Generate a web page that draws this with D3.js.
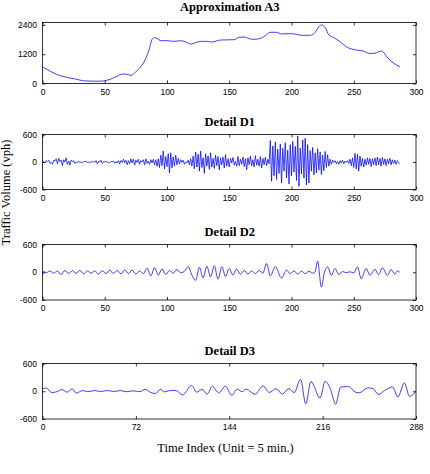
<!DOCTYPE html>
<html><head><meta charset="utf-8">
<script src="https://cdn.jsdelivr.net/npm/d3@7"></script>
<style>body{margin:0;background:#fff}</style></head>
<body><svg id="c" width="430" height="474"></svg>
<script>
// ---- data ----
const titles = ["Approximation A3", "Detail D1", "Detail D2", "Detail D3"];
const yAxisLabel = "Traffic Volume (vph)";
const xAxisLabel = "Time Index (Unit = 5 min.)";
const xTicks300 = [0, 50, 100, 150, 200, 250, 300];
const xTicks288 = [0, 72, 144, 216, 288];
const a3YTicks = [0, 1200, 2400];
const detailYTicks = [-600, 0, 600];

const a3Index = [0,7,13,20,27,33,40,47,51,56,60,64,67,71,75,79,83,85.5,88,90,92,95,100,105.5,111,115,119,123,127,132,136,143,154,158,162,166,170,175,179,183,188,192,199,204,208,215,219,222,224,227,230,234,239,244,252,258,262,266,270,272.5,276.5,280.5,284.5,287];
const a3Values = [686,480,343,247,178,110,96,96,123,206,300,384,384,330,480,686,1030,1371,1810,1880,1850,1755,1755,1727,1755,1700,1618,1673,1727,1727,1700,1782,1796,1892,1906,1837,1810,1850,1960,2098,2098,2030,2043,2015,1975,1975,2098,2330,2400,2300,1990,1880,1714,1508,1371,1330,1234,1234,1300,1330,1097,891,754,686];

const d1Values = [
0,10,-20,30,10,40,-30,-10,-50,40,
20,70,-40,80,10,40,-80,50,0,90,
-50,20,-70,40,10,30,-30,0,-10,10,
-10,0,-20,5,10,20,-10,0,-15,10,
0,15,-10,30,-40,10,0,40,-30,10,
0,20,-10,0,-20,10,5,20,-30,10,
-20,30,-40,30,-10,60,-20,40,-60,30,
-40,70,-20,60,-70,40,-10,60,-50,30,
0,50,-60,70,-30,20,-50,50,-20,60,
-60,50,-90,70,-120,150,-80,240,-150,120,
-100,180,-240,200,-130,110,-90,150,-60,80,
-40,50,-10,40,-50,0,-20,40,-60,70,
-90,130,-150,220,-110,170,-200,240,-120,90,
-250,180,-90,130,-160,200,-110,80,-140,150,
-80,120,-170,90,-60,110,-130,160,-90,70,
-110,80,-20,100,-70,10,-90,120,-80,60,
-50,110,-100,70,-170,90,-60,130,-80,50,
-110,140,-70,60,-90,120,-130,80,-60,100,
-80,60,-40,470,-420,350,-300,440,-380,280,
-250,390,-460,300,-200,420,-350,260,-480,380,
-300,450,-220,340,-400,570,-530,300,-260,480,
-350,520,-500,380,-460,250,-200,320,-280,200,
-240,290,-180,220,-270,150,-190,230,-120,160,
-90,60,-50,40,-10,30,-40,10,-50,30,
-20,40,-40,20,-10,30,-30,60,-80,90,
-120,190,-150,170,-200,130,-90,80,-110,60,
-70,90,-50,80,-100,70,-60,90,-80,110,
-60,80,-90,100,-50,70,-80,60,-40,80,
-60,50,-30,40,-50,30,-20,-40];

const d2Index = [0,1,3,6,9,12,15,18,21,24,27,30,33,36,39,42,45,48,51,54,57,60,63,66,69,72,75,78,81,
84,87,90,93,96,99,102,105,108,111,114,
117,120,123,126,129,132,135,138,141,144,147,150,153,156,159,162,
165,168,171,174,177,180,183,187,192,196,199,202,205,208,211,214,217,219,
221,224,226.5,229,232,235,238,241,244,247,250,253,256,260,263,267,270,273,277,280,283,285,287];
const d2Values = [-60,20,-10,30,-20,25,-50,40,-30,35,-25,40,-35,30,-20,30,-40,35,-30,45,-25,40,-35,50,-30,45,-40,30,-30,
90,-80,100,-60,70,-50,40,-20,60,-10,20,
120,-60,-175,110,-120,130,-100,140,-150,120,-90,80,-60,70,-50,40,
-40,30,-30,40,-20,190,-80,120,-125,45,-30,30,-40,25,-30,20,-20,10,
240,-320,0,115,-65,80,-50,15,-10,10,-15,115,-140,80,-65,65,-50,95,-65,60,-40,30,0];

const d3Index = [0,3,7,11,15,19,23,26,31,35,40,45,50,55,60,65,70,75,79,83,87,91,94,98,103,108,115,119,123,127,131,136,141,146,150,154,157,164,170,175,180,185,190,194,199,203,207,214,218,222,226,230,236,241,244,251,255,259,264,270,274,279,283,288];
const d3Values = [55,70,-30,-10,35,-20,50,-40,15,-10,15,-5,15,-5,15,-10,10,-10,40,-20,-50,40,-15,15,15,-80,125,-20,40,-60,110,-40,110,-90,45,-10,45,-65,115,-25,55,-60,60,-30,255,-270,210,-145,215,50,-280,95,100,-15,-35,75,55,-70,20,90,-125,180,-110,0];

// ---- layout ----
const svg = d3.select("#c");
svg.append("rect").attr("width", 430).attr("height", 474).attr("fill", "#fff");
const left = 42.5, right = 416;
const lineColor = "#0000ff";
const tickFont = "'Liberation Sans', Arial, sans-serif";
const serif = "'Liberation Serif', 'Times New Roman', serif";

const panels = [
  {top: 22.5, bottom: 83.5, titleY: 11, xDomain: [0, 300], xTicks: xTicks300, yDomain: [0, 2500], yTicks: a3YTicks,
   xs: a3Index, ys: a3Values, curve: d3.curveMonotoneX},
  {top: 134.5, bottom: 189.5, titleY: 126, xDomain: [0, 300], xTicks: xTicks300, yDomain: [-600, 600], yTicks: detailYTicks,
   xs: d3.range(d1Values.length), ys: d1Values, curve: d3.curveLinear},
  {top: 244.5, bottom: 300, titleY: 236, xDomain: [0, 300], xTicks: xTicks300, yDomain: [-600, 600], yTicks: detailYTicks,
   xs: d2Index, ys: d2Values, curve: d3.curveMonotoneX},
  {top: 363.5, bottom: 419, titleY: 355, xDomain: [0, 288], xTicks: xTicks288, yDomain: [-600, 600], yTicks: detailYTicks,
   xs: d3Index, ys: d3Values, curve: d3.curveMonotoneX}
];

panels.forEach((p, k) => {
  const x = d3.scaleLinear().domain(p.xDomain).range([left, right]);
  const y = d3.scaleLinear().domain(p.yDomain).range([p.bottom, p.top]);
  const g = svg.append("g");

  const pts = p.xs.map((v, i) => [v, p.ys[i]]);
  g.append("path").datum(pts)
    .attr("d", d3.line().x(d => x(d[0])).y(d => y(d[1])).curve(p.curve))
    .attr("fill", "none").attr("stroke", lineColor).attr("stroke-width", 0.75)
    .attr("stroke-linejoin", "round");

  const fmt = d => String(d);
  const styleAxis = sel => {
    sel.select(".domain").remove();
    sel.selectAll("line").attr("stroke", "#000").attr("stroke-width", 0.8);
    sel.selectAll("text").attr("font-family", tickFont).attr("font-size", 8.5).attr("fill", "#000");
  };
  g.append("g").attr("transform", `translate(0,${p.bottom})`)
    .call(d3.axisBottom(x).tickValues(p.xTicks).tickSizeInner(-3).tickSizeOuter(0).tickPadding(5).tickFormat(fmt))
    .call(styleAxis);
  g.append("g").attr("transform", `translate(0,${p.top})`)
    .call(d3.axisTop(x).tickValues(p.xTicks).tickSizeInner(-3).tickSizeOuter(0).tickFormat(""))
    .call(styleAxis);
  g.append("g").attr("transform", `translate(${left},0)`)
    .call(d3.axisLeft(y).tickValues(p.yTicks).tickSizeInner(-3).tickSizeOuter(0).tickPadding(5.5).tickFormat(fmt))
    .call(styleAxis);
  g.append("g").attr("transform", `translate(${right},0)`)
    .call(d3.axisRight(y).tickValues(p.yTicks).tickSizeInner(-3).tickSizeOuter(0).tickFormat(""))
    .call(styleAxis);

  g.append("rect").attr("x", left).attr("y", p.top)
    .attr("width", right - left).attr("height", p.bottom - p.top)
    .attr("fill", "none").attr("stroke", "#000").attr("stroke-width", 0.8);

  g.append("text").attr("x", (left + right) / 2 + 0.5).attr("y", p.titleY)
    .attr("text-anchor", "middle").attr("font-family", serif).attr("font-weight", "bold")
    .attr("font-size", 12.5).attr("fill", "#000").text(titles[k]);
});

svg.append("text").attr("transform", "translate(10,192.5) rotate(-90)")
  .attr("text-anchor", "middle").attr("font-family", serif).attr("font-size", 12.5)
  .attr("fill", "#000").text(yAxisLabel);
svg.append("text").attr("x", 225.5).attr("y", 452)
  .attr("text-anchor", "middle").attr("font-family", serif).attr("font-size", 12.5)
  .attr("fill", "#000").text(xAxisLabel);
</script></body></html>
